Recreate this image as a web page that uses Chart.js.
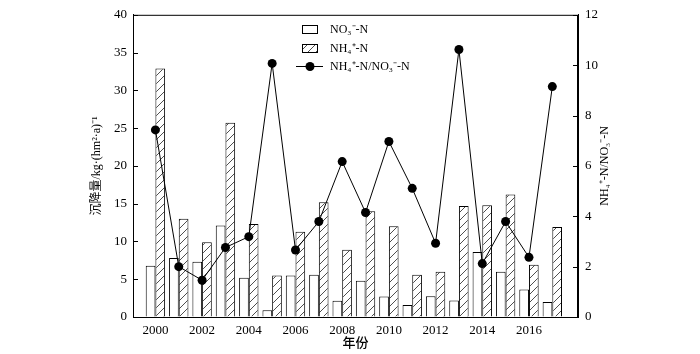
<!DOCTYPE html>
<html>
<head>
<meta charset="utf-8">
<script src="https://cdn.jsdelivr.net/npm/chart.js@4.4.0/dist/chart.umd.min.js"></script>
<style>
  html, body { margin: 0; padding: 0; background: #fff; }
  #wrap { width: 700px; height: 354px; }
</style>
</head>
<body>
<div id="wrap"><canvas id="depChart"></canvas></div>
<script>
const years = [2000, 2001, 2002, 2003, 2004, 2005, 2006, 2007, 2008, 2009, 2010, 2011, 2012, 2013, 2014, 2015, 2016, 2017];
const no3 = [6.8, 7.8, 7.3, 12.1, 5.2, 0.9, 5.5, 5.6, 2.15, 4.8, 2.7, 1.6, 2.75, 2.2, 8.6, 6.0, 3.65, 2.0];
const nh4 = [32.9, 13.0, 9.9, 25.7, 12.3, 5.5, 11.3, 15.2, 8.9, 14.0, 12.0, 5.6, 6.0, 14.7, 14.8, 16.2, 6.9, 11.9];
const ratio = [7.43, 2.0, 1.46, 2.76, 3.19, 10.07, 2.66, 3.79, 6.17, 4.15, 6.97, 5.11, 2.93, 10.62, 2.12, 3.79, 2.37, 9.15];
const yearTicks = [2000, 2002, 2004, 2006, 2008, 2010, 2012, 2014, 2016];

const serif = "'Liberation Serif', 'Times New Roman', serif";
const cjk = "'Liberation Serif', 'Noto Sans CJK SC', serif";

// diagonal hatch for the NH4 bars
function makeHatch() {
  const n = 8;
  const p = document.createElement("canvas");
  p.width = n;
  p.height = n;
  const c = p.getContext("2d");
  c.fillStyle = "#fff";
  c.fillRect(0, 0, n, n);
  c.strokeStyle = "#222";
  c.lineWidth = 0.8;
  c.beginPath();
  c.moveTo(0, n); c.lineTo(n, 0);
  c.moveTo(-1, 1); c.lineTo(1, -1);
  c.moveTo(n - 1, n + 1); c.lineTo(n + 1, n - 1);
  c.stroke();
  return c.createPattern(p, "repeat");
}

const ctx = document.getElementById("depChart").getContext("2d");
const hatch = makeHatch();

const extras = {
  id: "extras",
  afterDraw(chart) {
    const c = chart.ctx;
    const a = chart.chartArea;
    c.save();
    c.strokeStyle = "#000";
    c.lineWidth = 1;
    c.strokeRect(a.left + 0.5, a.top + 0.5, a.right - a.left - 1, a.bottom - a.top);

    // inward ticks
    c.beginPath();
    chart.scales.y.ticks.forEach(t => {
      const py = Math.round(chart.scales.y.getPixelForValue(t.value)) + 0.5;
      c.moveTo(a.left, py); c.lineTo(a.left + 5, py);
    });
    chart.scales.y1.ticks.forEach(t => {
      const py = Math.round(chart.scales.y1.getPixelForValue(t.value)) + 0.5;
      c.moveTo(a.right - 5, py); c.lineTo(a.right, py);
    });
    c.stroke();

    // right axis title
    c.fillStyle = "#000";
    c.font = "12px " + serif;
    c.textAlign = "center";
    c.textBaseline = "middle";
    c.translate(605, (a.top + a.bottom) / 2);
    c.rotate(-Math.PI / 2);
    c.fillText("NH\u2084\u207A-N/NO\u2083\u207B-N", 0, 0);
    c.restore();

    // legend
    c.save();
    c.font = "12px " + serif;
    c.textAlign = "left";
    c.textBaseline = "middle";
    const lx = 302, tx = 330;
    c.lineWidth = 1;
    c.strokeStyle = "#000";
    c.fillStyle = "#fff";
    c.fillRect(lx, 25, 15, 8);
    c.strokeRect(lx + 0.5, 25.5, 15, 8);
    c.fillStyle = hatch;
    c.fillRect(lx, 44, 15, 8);
    c.strokeRect(lx + 0.5, 44.5, 15, 8);
    c.beginPath();
    c.moveTo(296, 66.5); c.lineTo(323, 66.5);
    c.stroke();
    c.fillStyle = "#000";
    c.beginPath();
    c.arc(310, 66.5, 4.5, 0, Math.PI * 2);
    c.fill();
    const labels = chart.data.datasets.map(d => d.label);
    c.fillText(labels[0], tx, 29.5);
    c.fillText(labels[1], tx, 48.5);
    c.fillText(labels[2], tx, 66.5);
    c.restore();
  }
};

new Chart(ctx, {
  type: "bar",
  data: {
    datasets: [
      {
        label: "NO\u2083\u207B-N",
        data: years.map((y, i) => ({ x: y, y: no3[i] })),
        backgroundColor: "#fff",
        borderColor: "#000",
        borderWidth: 1,
        barPercentage: 1,
        categoryPercentage: 0.83,
        yAxisID: "y",
        order: 2,
      },
      {
        label: "NH\u2084\u207A-N",
        data: years.map((y, i) => ({ x: y, y: nh4[i] })),
        backgroundColor: hatch,
        borderColor: "#000",
        borderWidth: 1,
        barPercentage: 1,
        categoryPercentage: 0.83,
        yAxisID: "y",
        order: 2,
      },
      {
        type: "line",
        label: "NH\u2084\u207A-N/NO\u2083\u207B-N",
        data: years.map((y, i) => ({ x: y, y: ratio[i] })),
        borderColor: "#000",
        backgroundColor: "#000",
        borderWidth: 1,
        pointRadius: 4.5,
        pointBackgroundColor: "#000",
        pointBorderWidth: 0,
        tension: 0,
        yAxisID: "y1",
        order: 0,
      },
    ],
  },
  options: {
    responsive: true,
    maintainAspectRatio: false,
    animation: false,
    devicePixelRatio: 1,
    layout: { padding: { top: 7, left: 0, right: 0, bottom: 0 } },
    plugins: { legend: { display: false }, tooltip: { enabled: false } },
    scales: {
      x: {
        type: "linear",
        min: 1999.04,
        max: 2018.1,
        offset: false,
        afterBuildTicks: s => { s.ticks = yearTicks.map(v => ({ value: v })); },
        afterFit: s => { s.height = 37; },
        grid: { display: false, drawTicks: false },
        border: { display: true, color: "#000" },
        ticks: {
          padding: 6,
          color: "#000",
          font: { family: serif, size: 13 },
          callback: v => String(v),
        },
        title: {
          display: true,
          text: "年份",
          color: "#000",
          font: { family: cjk, size: 13, weight: "500" },
          padding: { top: 0, bottom: 3 },
        },
      },
      y: {
        position: "left",
        min: 0,
        max: 40,
        afterFit: s => { s.width = 133; },
        grid: { drawOnChartArea: false, drawTicks: false },
        border: { display: true, color: "#000" },
        ticks: {
          stepSize: 5,
          padding: 6,
          color: "#000",
          font: { family: serif, size: 13 },
        },
        title: {
          display: true,
          text: "沉降量/kg·(hm²·a)⁻¹",
          color: "#000",
          font: { family: cjk, size: 12 },
          padding: { top: 90, bottom: 0 },
        },
      },
      y1: {
        position: "right",
        min: 0,
        max: 12,
        afterFit: s => { s.width = 122; },
        grid: { drawOnChartArea: false, drawTicks: false },
        border: { display: true, color: "#000" },
        ticks: {
          stepSize: 2,
          padding: 7,
          color: "#000",
          font: { family: serif, size: 13 },
        },
      },
    },
  },
  plugins: [extras],
});
</script>
</body>
</html>
